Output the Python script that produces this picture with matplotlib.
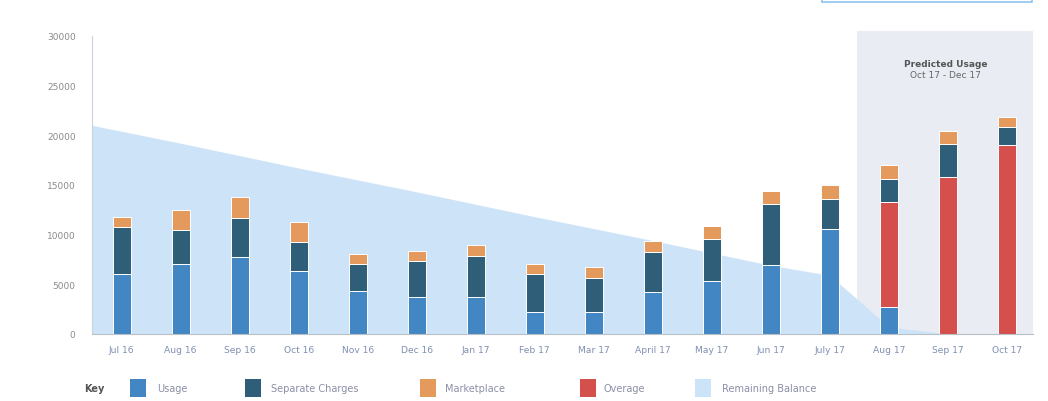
import numpy as np
import matplotlib
matplotlib.use("Agg")
import matplotlib.pyplot as plt
from matplotlib.patches import Rectangle

# data
months = ["Jul 16", "Aug 16", "Sep 16", "Oct 16", "Nov 16", "Dec 16", "Jan 17", "Feb 17",
          "Mar 17", "April 17", "May 17", "Jun 17", "July 17", "Aug 17", "Sep 17", "Oct 17"]
usage = [6000, 7000, 7700, 6300, 4300, 3700, 3700, 2200, 2200, 4200, 5300, 6900, 10600, 2700, 0, 0]
overage = [0, 0, 0, 0, 0, 0, 0, 0, 0, 0, 0, 0, 0, 10600, 15800, 19000]
separate = [4800, 3500, 4000, 3000, 2700, 3600, 4100, 3800, 3400, 4000, 4300, 6200, 3000, 2300, 3300, 1800]
marketplace = [1000, 2000, 2100, 2000, 1000, 1000, 1100, 1000, 1100, 1200, 1300, 1300, 1400, 1400, 1300, 1000]
balance_start = 21000
balance = [20400, 19200, 17950, 16700, 15500, 14300, 13050, 11800, 10600, 9400, 8150, 6900, 5900, 700, 0, 0]
yticks = [0, 5000, 10000, 15000, 20000, 25000, 30000]

c_usage = "#4286c4"
c_sep = "#2f5f78"
c_market = "#e39a5c"
c_over = "#d5504d"
c_bal = "#cde3f7"
c_pred = "#e9ecf3"

fig = plt.figure(figsize=(10.48, 4.02), dpi=100)
ax = fig.add_axes([0.088, 0.167, 0.898, 0.741])

x = np.arange(len(months))
w = 0.3
xmin, xmax = -0.5, len(months) - 0.55

# predicted usage shading
pred_start = 12.47
ax.add_patch(Rectangle((pred_start, 0), xmax - pred_start, 30500, facecolor=c_pred,
                       edgecolor="none", zorder=0, clip_on=False))
ax.text((pred_start + xmax) / 2, 27200, "Predicted Usage", ha="center", va="center",
        fontsize=6.5, fontweight="bold", color="#555555", zorder=3)
ax.text((pred_start + xmax) / 2, 26100, "Oct 17 - Dec 17", ha="center", va="center",
        fontsize=6.5, color="#666666", zorder=3)

# remaining balance area
bx = np.concatenate([[xmin], x])
by = np.concatenate([[balance_start], balance])
ax.fill_between(bx, 0, by, color=c_bal, lw=0, zorder=1)

# stacked bars
bottom = np.zeros(len(months))
for vals, col in [(usage, c_usage), (overage, c_over), (separate, c_sep), (marketplace, c_market)]:
    vals = np.array(vals)
    ax.bar(x, vals, w, bottom=bottom, color=col, edgecolor="white", linewidth=0.7, zorder=2)
    bottom += vals

ax.set_xlim(xmin, xmax)
ax.set_ylim(0, 30000)
ax.set_yticks(yticks)
ax.set_yticklabels([str(v) for v in yticks], fontsize=6.5, color="#8a8a8a")
ax.set_xticks(x)
ax.set_xticklabels(months, fontsize=6.6, color="#7f8fb0")
ax.tick_params(length=0, pad=8)
ax.tick_params(axis="y", pad=12)
for s in ["top", "right"]:
    ax.spines[s].set_visible(False)
ax.spines["left"].set_color("#c9d3e0")
ax.spines["bottom"].set_color("#b8c0c8")
ax.set_facecolor("none")

# legend row
ly = 0.032
fig.text(84 / 1048, ly, "Key", fontsize=7, fontweight="bold", color="#555555", va="center")
legend_items = [("Usage", c_usage, 130, 157), ("Separate Charges", c_sep, 245, 271),
                ("Marketplace", c_market, 420, 445), ("Overage", c_over, 580, 604),
                ("Remaining Balance", c_bal, 695, 722)]
for name, col, px, tx in legend_items:
    fig.patches.append(Rectangle((px / 1048, 4 / 402), 16 / 1048, 18 / 402,
                                 transform=fig.transFigure, facecolor=col, edgecolor="none"))
    fig.text(tx / 1048, ly, name, fontsize=7, color="#8a8fa6", va="center")

# button outline cut at the top right
fig.patches.append(Rectangle((822 / 1048, 0.993), 210 / 1048, 0.05, transform=fig.transFigure,
                             facecolor="white", edgecolor="#8fc3ee", linewidth=1.2))

fig.savefig("out.png", dpi=100)
